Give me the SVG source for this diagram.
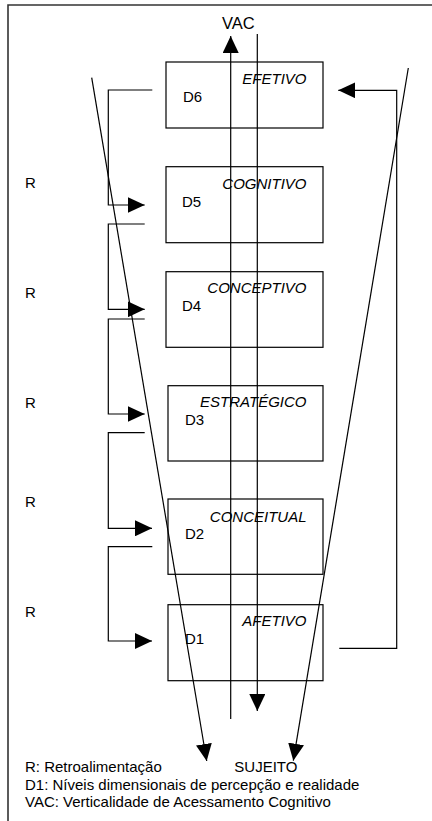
<svg xmlns="http://www.w3.org/2000/svg" width="432" height="821" viewBox="0 0 432 821">
  <style>
    text { font-family: "Liberation Sans", Arial, sans-serif; font-size: 15px; fill: #000; }
    .lab { font-style: italic; text-anchor: end; }
    .box { fill: none; stroke: #000; stroke-width: 1.2; }
    .ln { fill: none; stroke: #000; stroke-width: 1.2; }
    .arr { marker-end: url(#ah); }
    .frame { stroke: #333; stroke-width: 1.6; fill: none; }
  </style>
  <defs>
    <marker id="ah" viewBox="0 0 17 16" refX="17" refY="8" markerWidth="17" markerHeight="16" orient="auto" markerUnits="userSpaceOnUse">
      <path d="M0,0 L17,8 L0,16 z" fill="#000"/>
    </marker>
  </defs>
  <rect width="432" height="821" fill="#fff"/>
  <path class="frame" d="M8,821 V5 H432"/>

  <g id="d6">
    <rect class="box" x="166" y="62" width="157" height="66"/>
    <text x="183" y="101.7">D6</text>
    <text class="lab" x="306.5" y="84">EFETIVO</text>
  </g>
  <g id="d5">
    <rect class="box" x="166" y="166.7" width="157" height="76"/>
    <text x="182" y="207">D5</text>
    <text class="lab" x="306.5" y="189">COGNITIVO</text>
  </g>
  <g id="d4">
    <rect class="box" x="166" y="271.7" width="157" height="75.6"/>
    <text x="182" y="310.7">D4</text>
    <text class="lab" x="306.5" y="293.3">CONCEPTIVO</text>
  </g>
  <g id="d3">
    <rect class="box" x="168" y="385.7" width="155" height="75.3"/>
    <text x="185" y="425">D3</text>
    <text class="lab" x="306.5" y="407.3">ESTRATÉGICO</text>
  </g>
  <g id="d2">
    <rect class="box" x="168" y="499" width="155" height="75.3"/>
    <text x="185" y="539">D2</text>
    <text class="lab" x="306.5" y="521.7">CONCEITUAL</text>
  </g>
  <g id="d1">
    <rect class="box" x="168" y="604.7" width="155" height="76"/>
    <text x="185" y="644">D1</text>
    <text class="lab" x="306.5" y="626">AFETIVO</text>
  </g>

  <g id="labels">
    <text x="222" y="29" style="font-size:16.5px">VAC</text>
    <text x="25" y="188">R</text>
    <text x="25" y="298">R</text>
    <text x="25" y="408">R</text>
    <text x="25" y="507">R</text>
    <text x="25" y="617">R</text>
    <text x="234.3" y="772.3">SUJEITO</text>
    <text x="25" y="772.3">R: Retroalimentação</text>
    <text x="25" y="790">D1: Níveis dimensionais de percepção e realidade</text>
    <text x="25" y="806.7">VAC: Verticalidade de Acessamento Cognitivo</text>
  </g>

  <g id="connectors">
    <line class="ln arr" x1="230.7" y1="719" x2="230.7" y2="36"/>
    <line class="ln arr" x1="257.3" y1="34" x2="257.3" y2="711"/>
    <line class="ln arr" x1="91.7" y1="77.7" x2="206.7" y2="761"/>
    <line class="ln arr" x1="408.3" y1="68" x2="293.3" y2="760.7"/>
    <polyline class="ln arr" points="339.3,648.3 396.7,648.3 396.7,90.3 338.3,90.3"/>
    <polyline class="ln arr" points="152.3,90 108.3,90 108.3,205 144.7,205"/>
    <polyline class="ln arr" points="144.7,224 108.3,224 108.3,309.3 144.7,309.3"/>
    <polyline class="ln arr" points="144.7,319 108.3,319 108.3,414 144.7,414"/>
    <polyline class="ln arr" points="144.7,432.7 108.3,432.7 108.3,528.3 152,528.3"/>
    <polyline class="ln arr" points="152.3,546.7 108.3,546.7 108.3,641 152,641"/>
  </g>
</svg>
